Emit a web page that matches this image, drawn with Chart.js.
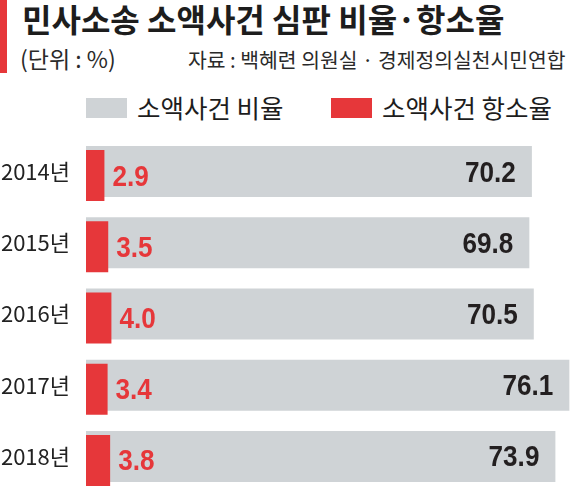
<!DOCTYPE html>
<html>
<head>
<meta charset="utf-8">
<script src="https://cdn.jsdelivr.net/npm/chart.js@4/dist/chart.umd.min.js"></script>
<style>
  html, body { margin: 0; padding: 0; background: #fff; }
  #wrap { position: relative; width: 570px; height: 494px; overflow: hidden; font-family: "Noto Sans CJK KR", sans-serif; }
  #accent { position: absolute; left: 0; top: 0; width: 7px; height: 73px; background: #e6373a; }
  #title { position: absolute; left: 22px; top: 2px; font-size: 32px; font-weight: 700; line-height: 1; color: #1d1d1d; letter-spacing: 0; white-space: nowrap; }
  #unit { position: absolute; left: 20px; top: 47px; font-size: 23px; line-height: 1; color: #2a2a2a; white-space: nowrap; }
  #source { position: absolute; left: 188px; top: 49px; font-size: 20.4px; line-height: 1; color: #2a2a2a; white-space: nowrap; letter-spacing: 0; }
  .lg-box { position: absolute; width: 41px; height: 20px; top: 98px; }
  .lg-text { position: absolute; top: 94px; font-size: 25.5px; line-height: 1; color: #1d1d1d; white-space: nowrap; }
  canvas { position: absolute; left: 0; top: 0; }
</style>
</head>
<body>
<div id="wrap">
  <div id="accent"></div>
  <div id="title">민사소송 소액사건 심판 비율·항소율</div>
  <div id="unit">(단위 : %)</div>
  <div id="source">자료 : 백혜련 의원실 · 경제정의실천시민연합</div>
  <div id="legend"></div>
  <canvas id="c" width="570" height="494"></canvas>
</div>
<script>
const categories = ["2014년", "2015년", "2016년", "2017년", "2018년"];
const seriesNames = ["소액사건 비율", "소액사건 항소율"];
const smallClaimShare = [70.2, 69.8, 70.5, 76.1, 73.9];
const appealRate = [2.9, 3.5, 4.0, 3.4, 3.8];
const seriesColors = ["#cfd3d6", "#e6373a"];

// HTML legend built from series arrays
const legendPos = [{box: 86, text: 137}, {box: 331, text: 382}];
const legendEl = document.getElementById('legend');
seriesNames.forEach((name, i) => {
  const b = document.createElement('div');
  b.className = 'lg-box';
  b.style.left = legendPos[i].box + 'px';
  b.style.background = seriesColors[i];
  legendEl.appendChild(b);
  const t = document.createElement('div');
  t.className = 'lg-text';
  t.style.left = legendPos[i].text + 'px';
  t.textContent = name;
  legendEl.appendChild(t);
});

const RED_SHIFT = 4;
const shiftPlugin = {
  id: 'shiftRed',
  beforeDatasetDraw(chart, args) {
    if (args.index === 1) { chart.ctx.save(); chart.ctx.translate(0, RED_SHIFT); }
  },
  afterDatasetDraw(chart, args) {
    if (args.index === 1) { chart.ctx.restore(); }
  }
};

const valuePlugin = {
  id: 'values',
  afterDatasetsDraw(chart) {
    const ctx = chart.ctx;
    const drawText = (txt, x, y, align, color) => {
      ctx.save();
      ctx.font = 'bold 29px "Liberation Sans", Arial, sans-serif';
      ctx.fillStyle = color;
      ctx.textBaseline = 'alphabetic';
      ctx.translate(x, y);
      ctx.scale(0.9, 1);
      ctx.textAlign = align;
      ctx.fillText(txt, 0, 0);
      ctx.restore();
    };
    const m0 = chart.getDatasetMeta(0);
    m0.data.forEach((el, i) => {
      drawText(smallClaimShare[i].toFixed(1), el.x - 16, el.y + 10, 'right', '#231f20');
    });
    const m1 = chart.getDatasetMeta(1);
    m1.data.forEach((el, i) => {
      drawText(appealRate[i].toFixed(1), el.x + 8, el.y + RED_SHIFT + 10, 'left', '#e6373a');
    });
  }
};

new Chart(document.getElementById('c'), {
  type: 'bar',
  data: {
    labels: categories,
    datasets: [
      { label: seriesNames[0], data: smallClaimShare, backgroundColor: seriesColors[0], order: 1 },
      { label: seriesNames[1], data: appealRate, backgroundColor: seriesColors[1], order: 0 }
    ]
  },
  options: {
    indexAxis: 'y',
    responsive: false,
    animation: false,
    events: [],
    devicePixelRatio: 1,
    layout: { padding: { top: 136, bottom: 2, left: 0, right: 0 } },
    datasets: { bar: { grouped: false, barPercentage: 0.716, categoryPercentage: 1, borderWidth: 0 } },
    plugins: { legend: { display: false }, tooltip: { enabled: false } },
    scales: {
      x: { display: false, min: 0, max: 76.2 },
      y: {
        afterFit: (s) => { s.width = 86; s.paddingTop = 0; s.paddingBottom = 0; },
        grid: { display: false, drawTicks: false },
        border: { display: false },
        ticks: { padding: 16, color: '#222', font: { family: '"Noto Sans CJK KR", sans-serif', size: 22 } }
      }
    }
  },
  plugins: [shiftPlugin, valuePlugin]
});
</script>
</body>
</html>
